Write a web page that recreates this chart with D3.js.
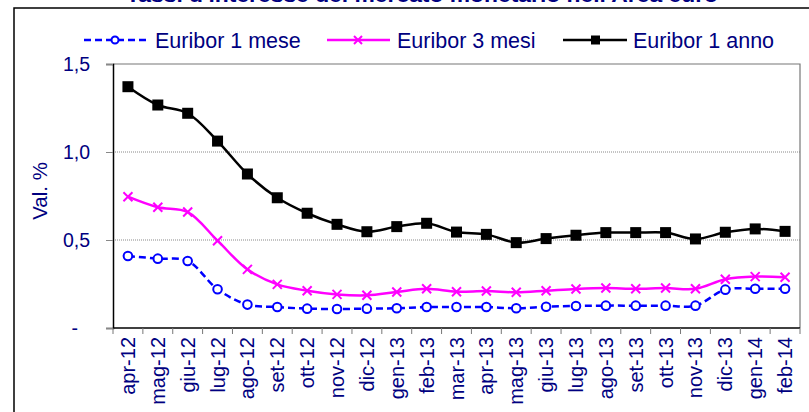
<!DOCTYPE html>
<html>
<head>
<meta charset="utf-8">
<script src="https://cdn.jsdelivr.net/npm/d3@7"></script>
<style>
  body { margin: 0; background: #fff; }
  text { font-family: Arial, "Liberation Sans", sans-serif; fill: #000080; }
</style>
</head>
<body>
<svg id="svg" width="809" height="412"></svg>
<script>
const months = ['apr-12','mag-12','giu-12','lug-12','ago-12','set-12','ott-12','nov-12','dic-12',
  'gen-13','feb-13','mar-13','apr-13','mag-13','giu-13','lug-13','ago-13','set-13','ott-13','nov-13','dic-13',
  'gen-14','feb-14'];
const euribor1m = [0.409,0.394,0.381,0.220,0.133,0.119,0.110,0.108,0.110,0.112,0.119,0.119,0.119,0.112,0.121,0.125,0.127,0.127,0.127,0.127,0.218,0.223,0.223];
const euribor3m = [0.746,0.686,0.659,0.496,0.333,0.248,0.212,0.191,0.186,0.205,0.223,0.206,0.210,0.203,0.212,0.222,0.227,0.223,0.227,0.223,0.277,0.292,0.288];
const euribor12m = [1.371,1.267,1.220,1.062,0.875,0.740,0.652,0.589,0.547,0.576,0.595,0.545,0.532,0.485,0.508,0.527,0.542,0.542,0.542,0.506,0.544,0.563,0.549];
const yTicks = [0, 0.5, 1.0, 1.5];
const seriesNames = ['Euribor 1 mese', 'Euribor 3 mesi', 'Euribor 1 anno'];

const svg = d3.select('#svg');

// cornice esterna
svg.append('rect')
    .attr('x', 14).attr('y', 8)
    .attr('width', 820).attr('height', 420)
    .style('fill', 'none').style('stroke', '#000').style('stroke-width', 1.5);

// titolo (tagliato in alto come nell'originale)
svg.append('text')
    .attr('x', 422).attr('y', 2)
    .attr('text-anchor', 'middle')
    .attr('textLength', 592).attr('lengthAdjust', 'spacingAndGlyphs')
    .style('font-size', '20px').style('font-weight', 'bold')
    .text("Tassi d'interesse del mercato monetario nell'Area euro");

const pLeft = 113, pRight = 800, pTop = 64, pBottom = 328;

const x = d3.scaleBand().domain(months).range([pLeft, pRight]).padding(0);
const y = d3.scaleLinear().domain([0, 1.5]).range([pBottom, pTop]);
const cx = d => x(d) + x.bandwidth() / 2;

// griglia
svg.append('g').selectAll('line')
    .data([0.5, 1.0])
    .join('line')
    .attr('x1', pLeft).attr('x2', pRight)
    .attr('y1', d => y(d)).attr('y2', d => y(d))
    .style('stroke', '#888').style('stroke-width', 1).style('stroke-dasharray', '1,1');

// bordo superiore e destro
svg.append('path')
    .attr('d', `M${pLeft},${y(1.5)}H${pRight}V${pBottom}`)
    .style('fill', 'none').style('stroke', '#777').style('stroke-width', 1.2);

// asse y
const yAxis = svg.append('g')
    .attr('transform', `translate(${pLeft},0)`)
    .call(d3.axisLeft(y).tickValues(yTicks).tickSize(7).tickPadding(16)
        .tickFormat(v => v === 0 ? '-' : d3.format('.1f')(v).replace('.', ',')));
yAxis.select('.domain').style('stroke', '#000').style('stroke-width', 1.5);
yAxis.selectAll('.tick line').style('stroke', '#888');
yAxis.selectAll('.tick text').style('font-size', '19.5px').style('fill', '#000080');
yAxis.selectAll('.tick').filter(d => d === 0).select('text').attr('x', -35);

// asse x
const xAxis = svg.append('g')
    .attr('transform', `translate(0,${pBottom})`)
    .call(d3.axisBottom(x).tickSize(0).tickPadding(0));
xAxis.select('.domain').remove();
xAxis.selectAll('.tick text')
    .style('font-size', '20px').style('fill', '#000080')
    .attr('text-anchor', 'end')
    .attr('transform', 'rotate(-90)')
    .attr('x', -9).attr('y', 0).attr('dy', '0.35em');

svg.append('line')
    .attr('x1', pLeft).attr('x2', pRight)
    .attr('y1', pBottom).attr('y2', pBottom)
    .style('stroke', '#000').style('stroke-width', 1.5);

svg.append('g').selectAll('line')
    .data(months.map(m => x(m)).concat([pRight]))
    .join('line')
    .attr('x1', d => d).attr('x2', d => d)
    .attr('y1', pBottom).attr('y2', pBottom + 6)
    .style('stroke', '#777');

// etichetta asse y
svg.append('text')
    .attr('transform', 'translate(47,191) rotate(-90)')
    .attr('text-anchor', 'middle')
    .style('font-size', '20.5px')
    .text('Val. %');

const line = d3.line()
    .x((d, i) => cx(months[i]))
    .y(d => y(d))
    .curve(d3.curveCatmullRom.alpha(0.5));

// Euribor 1 mese
svg.append('path')
    .attr('d', line(euribor1m))
    .style('fill', 'none').style('stroke', '#0000ff').style('stroke-width', 2.5)
    .style('stroke-dasharray', '7,4');
svg.append('g').selectAll('circle')
    .data(euribor1m)
    .join('circle')
    .attr('cx', (d, i) => cx(months[i]))
    .attr('cy', d => y(d))
    .attr('r', 4.3)
    .style('fill', '#fff').style('stroke', '#0000ff').style('stroke-width', 2);

// Euribor 3 mesi
svg.append('path')
    .attr('d', line(euribor3m))
    .style('fill', 'none').style('stroke', '#ff00ff').style('stroke-width', 2.5);
svg.append('g').selectAll('path')
    .data(euribor3m)
    .join('path')
    .attr('transform', (d, i) => `translate(${cx(months[i])},${y(d)})`)
    .attr('d', 'M-4.5,-4.5L4.5,4.5M-4.5,4.5L4.5,-4.5')
    .style('stroke', '#ff00ff').style('stroke-width', 2);

// Euribor 1 anno
svg.append('path')
    .attr('d', line(euribor12m))
    .style('fill', 'none').style('stroke', '#000').style('stroke-width', 2.5);
svg.append('g').selectAll('rect')
    .data(euribor12m)
    .join('rect')
    .attr('x', (d, i) => cx(months[i]) - 5.5)
    .attr('y', d => y(d) - 5.5)
    .attr('width', 11).attr('height', 11)
    .style('fill', '#000');

// legenda
const legY = 40;
const leg = svg.append('g');
leg.append('line').attr('x1', 84).attr('x2', 148).attr('y1', legY).attr('y2', legY)
    .style('stroke', '#0000ff').style('stroke-width', 2.5).style('stroke-dasharray', '7,4');
leg.append('circle').attr('cx', 115).attr('cy', legY).attr('r', 3.5)
    .style('fill', '#fff').style('stroke', '#0000ff').style('stroke-width', 2);
leg.append('line').attr('x1', 327).attr('x2', 390).attr('y1', legY).attr('y2', legY)
    .style('stroke', '#ff00ff').style('stroke-width', 2.5);
leg.append('path').attr('transform', `translate(358,${legY})`)
    .attr('d', 'M-4,-4L4,4M-4,4L4,-4')
    .style('stroke', '#ff00ff').style('stroke-width', 2);
leg.append('line').attr('x1', 563).attr('x2', 627).attr('y1', legY).attr('y2', legY)
    .style('stroke', '#000').style('stroke-width', 2.5);
leg.append('rect').attr('x', 591).attr('y', legY - 4.5).attr('width', 9).attr('height', 9)
    .style('fill', '#000');

leg.selectAll('text')
    .data(seriesNames)
    .join('text')
    .attr('x', (d, i) => [155, 397, 633][i])
    .attr('y', legY)
    .attr('dy', '0.35em')
    .style('font-size', '21.5px')
    .text(d => d);
</script>
</body>
</html>
